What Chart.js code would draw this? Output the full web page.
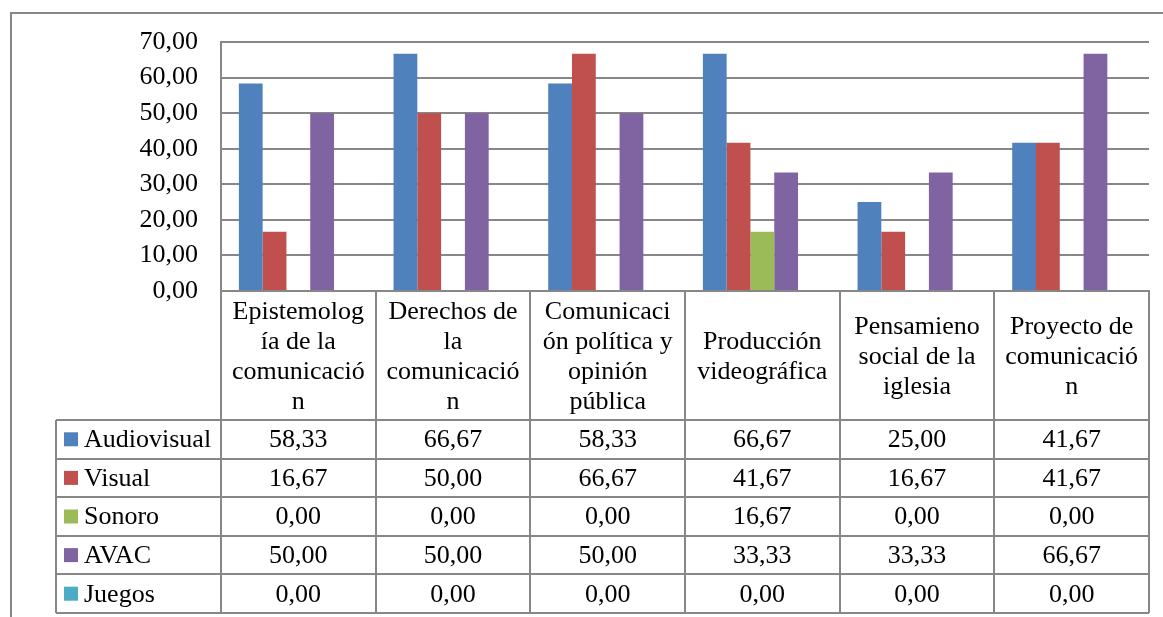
<!DOCTYPE html>
<html>
<head>
<meta charset="utf-8">
<script src="https://cdn.jsdelivr.net/npm/chart.js@4/dist/chart.umd.min.js"></script>
<style>
    body { margin: 0; background: #fff; }
    canvas { display: block; }
</style>
</head>
<body>
<canvas id="grafico" width="1163" height="617"></canvas>
<script>
// categorias (ya cortadas en lineas como en la tabla de Excel)
const categorias = [
    ["Epistemolog", "ía de la", "comunicació", "n"],
    ["Derechos de", "la", "comunicació", "n"],
    ["Comunicaci", "ón política y", "opinión", "pública"],
    ["Producción", "videográfica"],
    ["Pensamieno", "social de la", "iglesia"],
    ["Proyecto de", "comunicació", "n"],
];
const audiovisual = [58.33, 66.67, 58.33, 66.67, 25.0, 41.67];
const visual = [16.67, 50.0, 66.67, 41.67, 16.67, 41.67];
const sonoro = [0, 0, 0, 16.67, 0, 0];
const avac = [50.0, 50.0, 50.0, 33.33, 33.33, 66.67];
const juegos = [0, 0, 0, 0, 0, 0];
const ticksY = [0, 10, 20, 30, 40, 50, 60, 70];

const gris = "#878787";
const fuente = "'Liberation Serif', 'Times New Roman', serif";
const coma = (v) => v.toFixed(2).replace(".", ",");

const data = {
    labels: categorias,
    datasets: [
        { label: "Audiovisual", data: audiovisual, backgroundColor: "#4f81bd" },
        { label: "Visual", data: visual, backgroundColor: "#c0504d" },
        { label: "Sonoro", data: sonoro, backgroundColor: "#9bbb59" },
        { label: "AVAC", data: avac, backgroundColor: "#8064a2" },
        { label: "Juegos", data: juegos, backgroundColor: "#4bacc6" },
    ],
};

// tabla de datos debajo del grafico, como en Excel
const tablaDatos = {
    id: "tablaDatos",
    afterDraw(chart) {
        const ctx = chart.ctx;
        const x = chart.scales.x;
        const area = chart.chartArea;
        const medio = (x.getPixelForValue(1) - x.getPixelForValue(0)) / 2;
        const altoCabecera = 129;
        const altoFila = 38.6;
        const izqLeyenda = 56;
        const arriba = area.bottom;
        const filas = chart.data.datasets.length;
        const abajo = arriba + altoCabecera + filas * altoFila;

        ctx.save();
        ctx.strokeStyle = gris;
        ctx.lineWidth = 2;

        // marco exterior del grafico
        ctx.strokeRect(11, 13, 1170, 620);

        // lineas verticales de columnas
        for (let i = 0; i <= categorias.length; i++) {
            const xp = Math.round(x.getPixelForValue(i) - medio);
            ctx.beginPath();
            ctx.moveTo(xp, arriba);
            ctx.lineTo(xp, abajo);
            ctx.stroke();
        }
        // columna de leyenda
        ctx.beginPath();
        ctx.moveTo(izqLeyenda, arriba + altoCabecera);
        ctx.lineTo(izqLeyenda, abajo);
        ctx.stroke();
        // lineas horizontales
        for (let r = 0; r <= filas; r++) {
            const yp = Math.round(arriba + altoCabecera + r * altoFila);
            ctx.beginPath();
            ctx.moveTo(izqLeyenda, yp);
            ctx.lineTo(area.right, yp);
            ctx.stroke();
        }

        ctx.fillStyle = "#000";
        ctx.font = "26px " + fuente;
        ctx.textAlign = "center";
        ctx.textBaseline = "middle";

        // cabecera
        const interlinea = 30;
        categorias.forEach((lineas, i) => {
            const cx = x.getPixelForValue(i);
            const cy = arriba + altoCabecera / 2 + 2;
            const y0 = cy - ((lineas.length - 1) * interlinea) / 2;
            lineas.forEach((t, k) => ctx.fillText(t, cx, y0 + k * interlinea));
        });

        // filas de valores y leyenda
        chart.data.datasets.forEach((ds, r) => {
            const cy = arriba + altoCabecera + r * altoFila + altoFila / 2;
            ctx.fillStyle = ds.backgroundColor;
            ctx.fillRect(64, cy - 7, 14, 14);
            ctx.fillStyle = "#000";
            ctx.textAlign = "left";
            ctx.fillText(ds.label, 84, cy + 1);
            ctx.textAlign = "center";
            ds.data.forEach((v, i) => {
                ctx.fillText(coma(v), x.getPixelForValue(i), cy + 1);
            });
        });
        ctx.restore();
    },
};

new Chart(document.getElementById("grafico"), {
    type: "bar",
    data: data,
    plugins: [tablaDatos],
    options: {
        responsive: false,
        animation: false,
        devicePixelRatio: 1,
        layout: { padding: { left: 0, top: 42, right: 14, bottom: 326 } },
        datasets: {
            bar: { categoryPercentage: 0.769, barPercentage: 1.0 },
        },
        plugins: {
            legend: { display: false },
            tooltip: { enabled: false },
        },
        scales: {
            x: {
                ticks: { display: false },
                grid: { display: false },
                border: { display: true, color: gris, width: 2 },
                afterFit: (s) => { s.height = 0; },
            },
            y: {
                min: 0,
                max: 70,
                afterBuildTicks: (s) => { s.ticks = ticksY.map((v) => ({ value: v })); },
                ticks: {
                    padding: 23,
                    color: "#000",
                    font: { family: fuente, size: 26 },
                    callback: (v) => coma(v),
                },
                grid: { color: gris, lineWidth: 2, drawTicks: false },
                border: { display: true, color: gris, width: 2 },
                afterFit: (s) => { s.width = 221; },
            },
        },
    },
});
</script>
</body>
</html>
